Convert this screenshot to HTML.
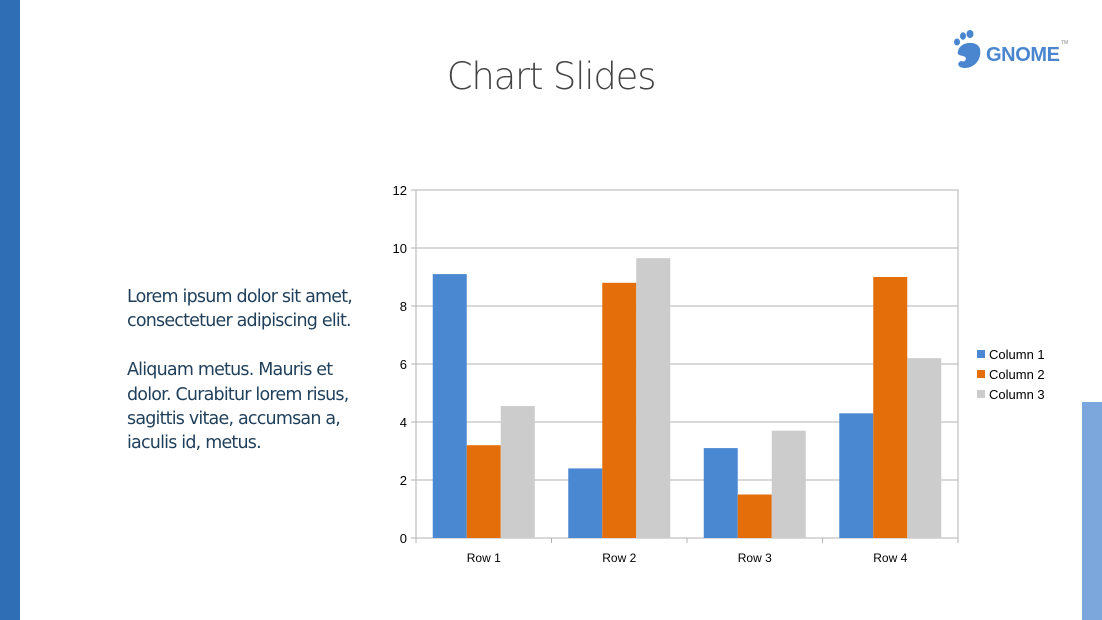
<!DOCTYPE html>
<html><head><meta charset="utf-8"><style>
body{margin:0;width:1102px;height:620px;background:#fff;position:relative;overflow:hidden;font-family:"Liberation Sans",sans-serif}
.abs{position:absolute}
</style></head><body>
<div class="abs" style="left:0;top:0;width:20px;height:620px;background:#2f6db5"></div>
<div class="abs" style="left:1082px;top:402px;width:20px;height:218px;background:#7ba7dc"></div>
<div class="abs" style="left:0;width:1102px;top:55px;text-align:center;font-size:37px;font-weight:300;color:#444;font-family:'DejaVu Sans','Liberation Sans',sans-serif;letter-spacing:-1.2px">Chart Slides</div>
<div class="abs" style="left:953px;top:30px;width:120px;height:40px">
<svg width="120" height="40"><g fill="#4a86cf"><ellipse cx="4" cy="12" rx="3" ry="3.5"/><ellipse cx="10" cy="6" rx="3" ry="3.8"/><ellipse cx="17" cy="4" rx="3.5" ry="4"/><path d="M5 21 C7 11 25 10 27 19 C29 30 21 38 12 38 C5 38 3 33 8 31 C13 33 15 27 10 26 C5 25 4 24 5 21Z"/></g>
<text x="33" y="31" font-family="Liberation Sans" font-weight="bold" font-size="20" fill="#4a86cf" textLength="74">GNOME</text><text x="108" y="14" font-size="5" fill="#888">TM</text></svg></div>
<div class="abs" style="left:127px;top:285px;width:245px;font-size:17.5px;line-height:24.4px;color:#1f3f5a;font-family:'DejaVu Sans','Liberation Sans',sans-serif;letter-spacing:-0.8px">Lorem ipsum dolor sit amet, consectetuer adipiscing elit.<br><br>Aliquam metus. Mauris et dolor. Curabitur lorem risus, sagittis vitae, accumsan a, iaculis id, metus.</div>
<svg class="abs" style="left:0;top:0" width="1102" height="620" id="chart"></svg>
<script>
const categories=["Row 1","Row 2","Row 3","Row 4"];
const seriesNames=["Column 1","Column 2","Column 3"];
const col1=[9.1,2.4,3.1,4.3];
const col2=[3.2,8.8,1.5,9.0];
const col3=[4.55,9.65,3.7,6.2];
const yTicks=[0,2,4,6,8,10,12];
const colors=["#4a89d2","#e46f0a","#cccccc"];
const series=[col1,col2,col3];
const X0=416,X1=958,Y0=538,Y1=190,YMAX=12;
const svg=document.getElementById('chart');const NS="http://www.w3.org/2000/svg";
function y(v){return Y0-(v/YMAX)*(Y0-Y1);}
const cw=(X1-X0)/categories.length;
function xc(i){return X0+i*cw;}
function mk(t,a){const e=document.createElementNS(NS,t);for(const k in a)e.setAttribute(k,a[k]);svg.appendChild(e);return e;}
yTicks.forEach(t=>{
 const l=mk('line',{x1:X0-5,x2:X1,y1:y(t),y2:y(t),stroke:'#b3b3b3','stroke-width':1});
 
 
 const tx=mk('text',{x:X0-9,y:y(t)+5,'text-anchor':'end','font-size':13,fill:'#000'});tx.textContent=t;
 
 
});
const fr=mk('rect',{x:X0,y:Y1,width:X1-X0,height:Y0-Y1,fill:'none',stroke:'#b3b3b3'});


for(let i=0;i<=categories.length;i++){const t=mk('line',{x1:xc(i),x2:xc(i),y1:Y0,y2:Y0+5,stroke:'#b3b3b3'});
 
 }
const bw=34,gap=(cw-3*bw)/2;
categories.forEach((c,i)=>{
 series.forEach((s,j)=>{
  const r=mk('rect',{x:xc(i)+gap+j*bw,y:y(s[i]),width:bw,height:Y0-y(s[i]),fill:colors[j]});
  
  
 });
 const tx=mk('text',{x:xc(i)+cw/2,y:Y0+24,'text-anchor':'middle','font-size':12,fill:'#000'});tx.textContent=c;
 
 
});
seriesNames.forEach((n,j)=>{
 const g=document.createElementNS(NS,'g');svg.appendChild(g);
 
 
 const r=document.createElementNS(NS,'rect');r.setAttribute('x',977);r.setAttribute('y',350+j*20);r.setAttribute('width',8);r.setAttribute('height',8);r.setAttribute('fill',colors[j]);g.appendChild(r);
 const t=document.createElementNS(NS,'text');t.setAttribute('x',989);t.setAttribute('y',359+j*20);t.setAttribute('font-size',13);t.textContent=n;g.appendChild(t);
});
</script>
</body></html>
